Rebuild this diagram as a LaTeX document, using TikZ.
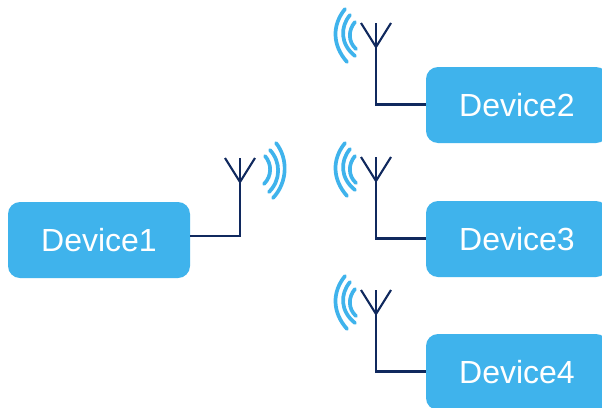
\documentclass[tikz,border=0pt]{standalone}
\usepackage{fontspec}
\setmainfont{Liberation Sans}
\definecolor{devblue}{HTML}{3FB3EC}
\definecolor{wirenavy}{HTML}{10295E}
\tikzset{
	devbox/.style={fill=devblue, rounded corners=12pt, minimum width=182pt, minimum height=76pt, inner sep=0pt, text=white, font=\fontsize{32}{32}\selectfont},
	wire/.style={draw=wirenavy, line width=2.1pt},
	wave/.style={draw=devblue, line width=3.7pt, line cap=round}
}
\begin{document}
\begin{tikzpicture}[x=1pt, y=-1pt, line join=miter]
	\clip (0,0) rectangle (602,407);
	\fill[white] (0,0) rectangle (602,407);
	\node[devbox] (D1) at (99,240) {Device1};
	\node[devbox] (D2) at (517,105) {Device2};
	\node[devbox] (D3) at (517,239) {Device3};
	\node[devbox] (D4) at (517,372) {Device4};
	% antennas of the right column
	\foreach \d/\y in {D2/0, D3/134, D4/267}{
		\path
		(376,{47+\y}) coordinate (J\d)
		(361,{23+\y}) coordinate (L\d)
		(391,{23+\y}) coordinate (R\d)
		(376,{23+\y}) coordinate (T\d)
		(376,{104.5+\y}) coordinate (C\d);
		\draw[wire] (L\d)--(J\d)--(R\d);
		\draw[wire, line width=1.1pt] (T\d)--(J\d);
		\draw[wire] (J\d)--(C\d)--(C\d-|\d.west);
		\draw[wave] (345,{9+\y}) .. controls (332,{25+\y}) and (332,{45+\y}) .. (347,{62+\y});
		\draw[wave] (350,{15+\y}) .. controls (340,{27+\y}) and (340,{44+\y}) .. (355,{56+\y});
		\draw[wave] (355,{22+\y}) .. controls (348,{30+\y}) and (348,{42+\y}) .. (356,{49+\y});
	}
	% antenna of the first device
	\path
	(240,182) coordinate (JD1)
	(225,158) coordinate (LD1)
	(255,158) coordinate (RD1)
	(240,158) coordinate (TD1)
	(240,236) coordinate (CD1);
	\draw[wire] (LD1)--(JD1)--(RD1);
	\draw[wire, line width=1.1pt] (TD1)--(JD1);
	\draw[wire] (JD1)--(CD1)--(CD1-|D1.east);
	\draw[wave] (276,143) .. controls (288,158) and (288,182) .. (273,198);
	\draw[wave] (270,150) .. controls (281,162) and (281,180) .. (269,192);
	\draw[wave] (265,156) .. controls (272,164) and (272,176) .. (264,184);
\end{tikzpicture}
\end{document}
